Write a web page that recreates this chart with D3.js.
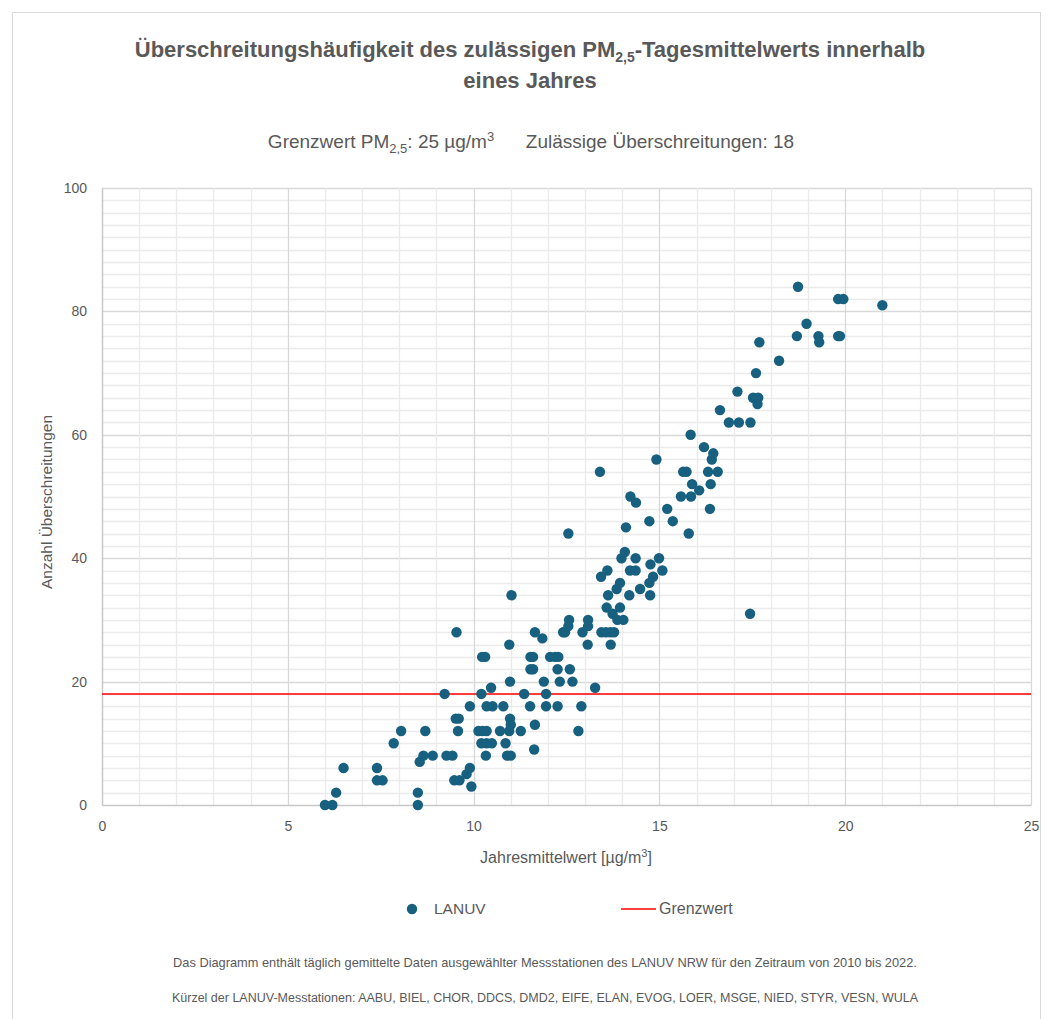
<!DOCTYPE html>
<html>
<head>
<meta charset="utf-8">
<script src="https://cdn.jsdelivr.net/npm/d3@7"></script>
<style>
  body { margin: 0; background: #fff; }
</style>
</head>
<body>
<script>
var width = 1050;
var height = 1019;

// Jahresmittelwert [µg/m³]
var xValues = [6.0, 6.2, 6.3, 6.5, 7.4, 7.4, 7.55, 7.85, 8.05, 8.5, 8.5, 8.55, 8.65, 8.7, 8.9,
  9.27, 9.43, 9.22, 9.54, 9.52, 9.6, 9.58, 9.48, 9.62, 9.81, 9.9, 9.94, 9.9, 10.21, 10.47,
  10.23, 10.31, 10.13, 10.24, 10.35, 10.21, 10.35, 10.49, 10.33, 10.35, 10.51, 10.8, 10.71,
  10.86, 10.9, 11.0, 10.98, 11.0, 10.96, 10.96, 10.98, 11.02, 11.27, 11.36, 11.52, 11.65,
  11.63, 11.65, 11.85, 11.53, 11.6, 11.53, 11.6, 11.89, 11.95, 11.95, 12.06, 12.19, 12.28,
  12.26, 12.59, 12.32, 12.66, 12.26, 12.9, 12.82, 12.41, 12.46, 12.55, 12.57, 12.93, 13.08,
  13.08, 13.07, 13.27, 12.55,
  13.44, 13.56, 13.68, 13.78, 13.69, 13.4, 13.58, 13.74, 13.87, 14.03, 13.94, 13.62, 13.85,
  13.94, 14.19, 13.43, 13.6, 13.98, 14.07, 14.36, 14.21, 14.36, 14.48, 14.75, 14.73, 14.83,
  14.76, 14.99, 15.08, 14.1, 14.22, 14.37, 14.73, 15.21, 15.36, 14.92, 15.79, 15.58, 15.85,
  15.88, 16.07, 16.38, 16.36, 15.64, 15.73, 16.31, 16.57, 16.41, 16.45, 16.2, 15.84, 16.87,
  17.14, 17.45, 17.44,
  16.63, 17.1, 17.52, 17.66, 17.64, 17.6, 17.69, 18.22, 18.73, 18.7, 18.96, 19.28, 19.3,
  19.81, 19.95, 19.81, 19.86, 21.0];

// Anzahl Überschreitungen
var yValues = [0, 0, 2, 6, 6, 4, 4, 10, 12, 0, 2, 7, 8, 12, 8,
  8, 8, 18, 28, 14, 14, 12, 4, 4, 5, 6, 3, 16, 18, 19,
  24, 24, 12, 12, 12, 10, 10, 10, 8, 16, 16, 16, 12,
  10, 8, 8, 14, 13, 12, 26, 20, 34, 12, 18, 16, 13,
  9, 28, 27, 24, 24, 22, 22, 20, 18, 16, 24, 24, 24,
  22, 22, 20, 20, 16, 16, 12, 28, 28, 29, 30, 28, 30,
  29, 26, 19, 44,
  28, 28, 28, 28, 26, 54, 32, 31, 30, 30, 32, 34, 35,
  36, 34, 37, 38, 40, 41, 40, 38, 38, 35, 34, 36, 37,
  39, 40, 38, 45, 50, 49, 46, 48, 46, 56, 44, 50, 50,
  52, 51, 52, 48, 54, 54, 54, 54, 56, 57, 58, 60, 62,
  62, 62, 31,
  64, 67, 66, 66, 65, 70, 75, 72, 84, 76, 78, 76, 75,
  82, 82, 76, 76, 81];

var xTicks = [0, 5, 10, 15, 20, 25];
var yTicks = [0, 20, 40, 60, 80, 100];
var grenzwert = 18;

var points = xValues.map(function(x, i) { return { x: x, y: yValues[i] }; });

var grey = "#595959";
var dotColor = "#17607f";
var fontMain = "'Liberation Sans', Arial, sans-serif";

var svg = d3.select("body")
  .append("svg")
  .attr("width", width)
  .attr("height", height)
  .style("font-family", fontMain);

// Rahmen des Diagrammbereichs
svg.append("rect")
  .attr("x", 12.5).attr("y", 12.5)
  .attr("width", 1028).attr("height", 1020)
  .attr("fill", "none")
  .attr("stroke", "#d9d9d9");

var plotLeft = 102, plotRight = 1031, plotTop = 188, plotBottom = 805;

var x = d3.scaleLinear().domain([0, 25]).range([plotLeft, plotRight]);
var y = d3.scaleLinear().domain([0, 100]).range([plotBottom, plotTop]);

// Gitternetz (Hilfslinien)
var grid = svg.append("g");
grid.selectAll(".hgrid")
  .data(d3.range(2, 101, 2))
  .enter().append("line")
  .attr("x1", plotLeft).attr("x2", plotRight)
  .attr("y1", function(d) { return Math.round(y(d)) + 0.5; })
  .attr("y2", function(d) { return Math.round(y(d)) + 0.5; })
  .attr("stroke", function(d) { return d % 20 === 0 ? "#d9d9d9" : "#ebebeb"; })
  .attr("stroke-width", 1.3);

grid.selectAll(".vgrid")
  .data(d3.range(1, 26, 1))
  .enter().append("line")
  .attr("y1", plotTop).attr("y2", plotBottom)
  .attr("x1", function(d) { return Math.round(x(d)) + 0.5; })
  .attr("x2", function(d) { return Math.round(x(d)) + 0.5; })
  .attr("stroke", function(d) { return d % 5 === 0 ? "#d9d9d9" : "#ebebeb"; })
  .attr("stroke-width", 1.3);

// Achsen
var xAxis = d3.axisBottom(x).tickValues(xTicks).tickSize(0).tickPadding(16);
var yAxis = d3.axisLeft(y).tickValues(yTicks).tickSize(0).tickPadding(15);

var gx = svg.append("g").attr("transform", "translate(0," + plotBottom + ")").call(xAxis);
var gy = svg.append("g").attr("transform", "translate(" + plotLeft + ",0)").call(yAxis);

[gx, gy].forEach(function(g) {
  g.select(".domain").attr("stroke", "#c8c8c8").attr("stroke-width", 1.5);
  g.selectAll("text")
    .attr("fill", grey)
    .style("font-size", "14px")
    .style("font-family", fontMain);
});

// Grenzwert-Linie
svg.append("line")
  .attr("x1", plotLeft).attr("x2", plotRight)
  .attr("y1", y(grenzwert)).attr("y2", y(grenzwert))
  .attr("stroke", "#ff0000")
  .attr("stroke-width", 1.6);

// Messpunkte
svg.append("g")
  .selectAll("circle")
  .data(points)
  .enter().append("circle")
  .attr("cx", function(d) { return x(d.x); })
  .attr("cy", function(d) { return y(d.y); })
  .attr("r", 5.2)
  .attr("fill", dotColor);

// Titel
var title = svg.append("text")
  .attr("x", 530).attr("y", 57)
  .attr("text-anchor", "middle")
  .attr("fill", grey)
  .style("font-weight", "bold")
  .style("font-size", "22px");
title.append("tspan").text("Überschreitungshäufigkeit des zulässigen PM");
title.append("tspan").attr("dy", 5).style("font-size", "14px").text("2,5");
title.append("tspan").attr("dy", -5).text("-Tagesmittelwerts innerhalb");

svg.append("text")
  .attr("x", 530).attr("y", 88)
  .attr("text-anchor", "middle")
  .attr("fill", grey)
  .style("font-weight", "bold")
  .style("font-size", "22px")
  .text("eines Jahres");

// Untertitel
var sub = svg.append("text")
  .attr("x", 531).attr("y", 148)
  .attr("text-anchor", "middle")
  .attr("fill", grey)
  .attr("xml:space", "preserve")
  .style("font-size", "19px");
sub.append("tspan").text("Grenzwert PM");
sub.append("tspan").attr("dy", 5).style("font-size", "13px").text("2,5");
sub.append("tspan").attr("dy", -5).text(": 25 µg/m");
sub.append("tspan").attr("dy", -7).style("font-size", "13px").text("3");
sub.append("tspan").attr("dy", 7).text("      Zulässige Überschreitungen: 18");

// Achsentitel
svg.append("text")
  .attr("transform", "translate(52,502) rotate(-90)")
  .attr("text-anchor", "middle")
  .attr("fill", grey)
  .style("font-size", "15.5px")
  .text("Anzahl Überschreitungen");

var xt = svg.append("text")
  .attr("x", 566).attr("y", 863)
  .attr("text-anchor", "middle")
  .attr("fill", grey)
  .style("font-size", "16px");
xt.append("tspan").text("Jahresmittelwert [µg/m");
xt.append("tspan").attr("dy", -6).style("font-size", "11px").text("3");
xt.append("tspan").attr("dy", 6).text("]");

// Legende
svg.append("circle").attr("cx", 412).attr("cy", 909).attr("r", 5.2).attr("fill", dotColor);
svg.append("text").attr("x", 434).attr("y", 914).attr("fill", grey)
  .style("font-size", "15.5px").text("LANUV");
svg.append("line").attr("x1", 621).attr("x2", 656).attr("y1", 909).attr("y2", 909)
  .attr("stroke", "#ff0000").attr("stroke-width", 1.6);
svg.append("text").attr("x", 659).attr("y", 914).attr("fill", grey)
  .style("font-size", "16px").text("Grenzwert");

// Fußnoten
svg.append("text")
  .attr("x", 545).attr("y", 967)
  .attr("text-anchor", "middle")
  .attr("fill", grey)
  .style("font-size", "12.8px")
  .text("Das Diagramm enthält täglich gemittelte Daten ausgewählter Messstationen des LANUV NRW für den Zeitraum von 2010 bis 2022.");

svg.append("text")
  .attr("x", 545).attr("y", 1002)
  .attr("text-anchor", "middle")
  .attr("fill", grey)
  .style("font-size", "12.5px")
  .text("Kürzel der LANUV-Messtationen: AABU, BIEL, CHOR, DDCS, DMD2, EIFE, ELAN, EVOG, LOER, MSGE, NIED, STYR, VESN, WULA");
</script>
</body>
</html>
